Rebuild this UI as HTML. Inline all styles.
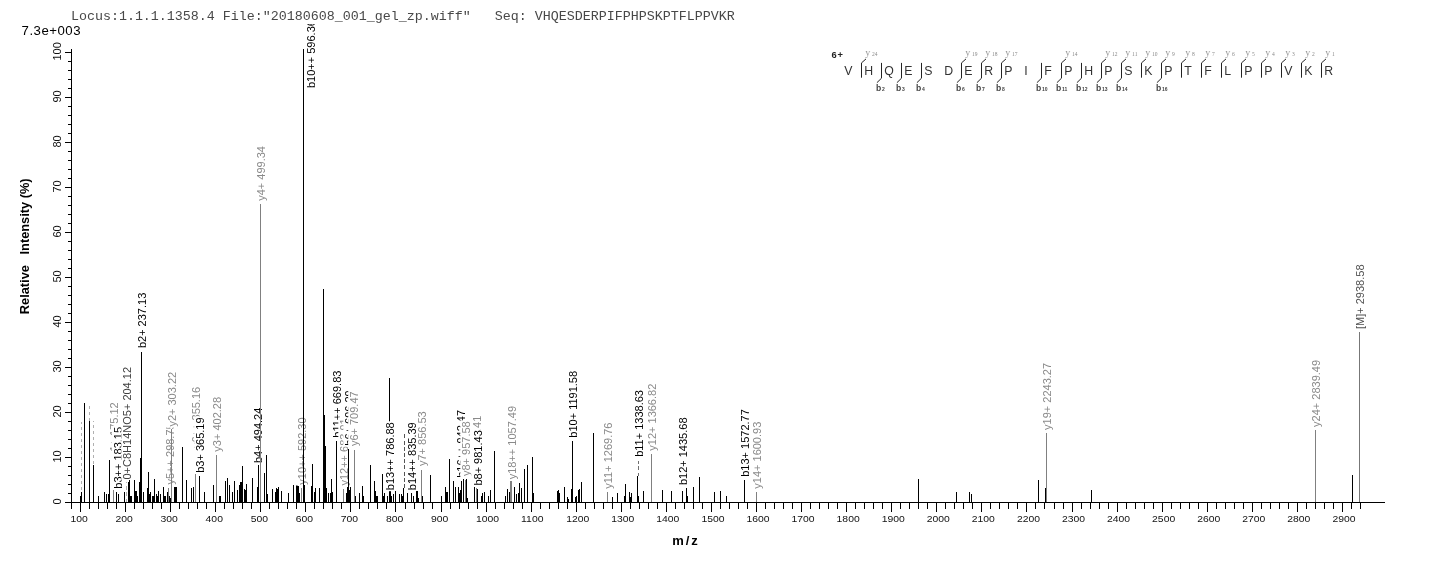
<!DOCTYPE html>
<html lang="en"><head><meta charset="utf-8"><title>MS/MS spectrum</title>
<style>html,body{margin:0;padding:0;background:#fff;}body{width:1436px;height:562px;overflow:hidden;position:relative;}</style>
</head><body>
<svg width="1436" height="562" viewBox="0 0 1436 562" style="position:absolute;left:0;top:0;display:block;will-change:transform" font-family='"Liberation Sans", Arial, sans-serif'>
<rect x="0" y="0" width="1436" height="562" fill="#fff"/>
<defs><clipPath id="plotclip"><rect x="60" y="24" width="1376" height="500"/></clipPath></defs>
<g clip-path="url(#plotclip)">
<rect x="80" y="496" width="1" height="6" fill="#000" shape-rendering="crispEdges"/>
<rect x="81" y="492" width="1" height="10" fill="#000" shape-rendering="crispEdges"/>
<rect x="84" y="403" width="1" height="99" fill="#000" shape-rendering="crispEdges"/>
<rect x="89" y="421" width="1" height="81" fill="#000" shape-rendering="crispEdges"/>
<rect x="93" y="465" width="1" height="37" fill="#000" shape-rendering="crispEdges"/>
<rect x="98" y="496" width="1" height="6" fill="#000" shape-rendering="crispEdges"/>
<rect x="104" y="492" width="1" height="10" fill="#000" shape-rendering="crispEdges"/>
<rect x="106" y="494" width="1" height="8" fill="#000" shape-rendering="crispEdges"/>
<rect x="108" y="494" width="1" height="8" fill="#000" shape-rendering="crispEdges"/>
<rect x="109" y="460" width="1" height="42" fill="#000" shape-rendering="crispEdges"/>
<rect x="113" y="490" width="1" height="12" fill="#808080" shape-rendering="crispEdges"/>
<rect x="108.3" y="401.3" width="12.5" height="56.7" fill="#fff"/>
<text transform="translate(118.3 457.0) rotate(-90)" font-size="11" fill="#8a8a8a">y1+ 175.12</text>
<rect x="116" y="492" width="1" height="10" fill="#000" shape-rendering="crispEdges"/>
<rect x="112.0" y="425.9" width="12.5" height="63.8" fill="#fff"/>
<text transform="translate(122.0 488.7) rotate(-90)" font-size="11" fill="#000">b3++ 183.15</text>
<rect x="118" y="494" width="1" height="8" fill="#000" shape-rendering="crispEdges"/>
<rect x="124" y="492" width="1" height="10" fill="#000" shape-rendering="crispEdges"/>
<line x1="126.5" y1="502" x2="126.5" y2="482" stroke="#b0b0b0" stroke-width="1" stroke-dasharray="3.5 2.7" shape-rendering="crispEdges"/>
<rect x="121.3" y="366.0" width="12.5" height="114.5" fill="#fff"/>
<text transform="translate(131.3 479.5) rotate(-90)" font-size="11" fill="#404040">0+C8H14NO5+ 204.12</text>
<rect x="128" y="482" width="1" height="20" fill="#000" shape-rendering="crispEdges"/>
<rect x="129" y="480" width="1" height="22" fill="#000" shape-rendering="crispEdges"/>
<rect x="130" y="496" width="1" height="6" fill="#000" shape-rendering="crispEdges"/>
<rect x="131" y="496" width="1" height="6" fill="#000" shape-rendering="crispEdges"/>
<rect x="134" y="480" width="1" height="22" fill="#000" shape-rendering="crispEdges"/>
<rect x="135" y="491" width="1" height="11" fill="#000" shape-rendering="crispEdges"/>
<rect x="136" y="491" width="1" height="11" fill="#000" shape-rendering="crispEdges"/>
<rect x="137" y="496" width="1" height="6" fill="#000" shape-rendering="crispEdges"/>
<rect x="139" y="482" width="1" height="20" fill="#000" shape-rendering="crispEdges"/>
<rect x="140" y="458" width="1" height="44" fill="#000" shape-rendering="crispEdges"/>
<rect x="141" y="352" width="1" height="150" fill="#000" shape-rendering="crispEdges"/>
<rect x="136.3" y="291.7" width="12.5" height="57.4" fill="#fff"/>
<text transform="translate(146.3 348.1) rotate(-90)" font-size="11" fill="#000">b2+ 237.13</text>
<rect x="143" y="492" width="1" height="10" fill="#000" shape-rendering="crispEdges"/>
<rect x="147" y="488" width="1" height="14" fill="#000" shape-rendering="crispEdges"/>
<rect x="148" y="472" width="1" height="30" fill="#000" shape-rendering="crispEdges"/>
<rect x="149" y="494" width="1" height="8" fill="#000" shape-rendering="crispEdges"/>
<rect x="150" y="492" width="1" height="10" fill="#000" shape-rendering="crispEdges"/>
<rect x="152" y="496" width="1" height="6" fill="#000" shape-rendering="crispEdges"/>
<rect x="153" y="496" width="1" height="6" fill="#000" shape-rendering="crispEdges"/>
<rect x="154" y="479" width="1" height="23" fill="#000" shape-rendering="crispEdges"/>
<rect x="156" y="494" width="1" height="8" fill="#000" shape-rendering="crispEdges"/>
<rect x="157" y="496" width="1" height="6" fill="#000" shape-rendering="crispEdges"/>
<rect x="158" y="491" width="1" height="11" fill="#000" shape-rendering="crispEdges"/>
<rect x="160" y="494" width="1" height="8" fill="#000" shape-rendering="crispEdges"/>
<rect x="163" y="487" width="1" height="15" fill="#000" shape-rendering="crispEdges"/>
<rect x="164" y="496" width="1" height="6" fill="#000" shape-rendering="crispEdges"/>
<rect x="165" y="496" width="1" height="6" fill="#000" shape-rendering="crispEdges"/>
<rect x="167" y="492" width="1" height="10" fill="#000" shape-rendering="crispEdges"/>
<rect x="168" y="488" width="1" height="14" fill="#808080" shape-rendering="crispEdges"/>
<rect x="163.6" y="422.3" width="12.5" height="63.2" fill="#fff"/>
<text transform="translate(173.6 484.5) rotate(-90)" font-size="11" fill="#8a8a8a">y5++ 298.75</text>
<rect x="169" y="496" width="1" height="6" fill="#000" shape-rendering="crispEdges"/>
<rect x="170" y="498" width="1" height="4" fill="#000" shape-rendering="crispEdges"/>
<rect x="171" y="429" width="1" height="73" fill="#808080" shape-rendering="crispEdges"/>
<rect x="165.8" y="370.9" width="12.5" height="56.7" fill="#fff"/>
<text transform="translate(175.8 426.6) rotate(-90)" font-size="11" fill="#8a8a8a">y2+ 303.22</text>
<rect x="174" y="487" width="1" height="15" fill="#000" shape-rendering="crispEdges"/>
<rect x="175" y="487" width="1" height="15" fill="#000" shape-rendering="crispEdges"/>
<rect x="176" y="487" width="1" height="15" fill="#000" shape-rendering="crispEdges"/>
<rect x="182" y="447" width="1" height="55" fill="#000" shape-rendering="crispEdges"/>
<rect x="186" y="480" width="1" height="22" fill="#000" shape-rendering="crispEdges"/>
<rect x="191" y="488" width="1" height="14" fill="#000" shape-rendering="crispEdges"/>
<rect x="193" y="487" width="1" height="15" fill="#000" shape-rendering="crispEdges"/>
<rect x="195" y="474" width="1" height="28" fill="#808080" shape-rendering="crispEdges"/>
<rect x="190.3" y="385.8" width="12.5" height="63.2" fill="#fff"/>
<text transform="translate(200.3 448.0) rotate(-90)" font-size="11" fill="#8a8a8a">y6++ 355.16</text>
<rect x="199" y="476" width="1" height="26" fill="#000" shape-rendering="crispEdges"/>
<rect x="194.3" y="416.4" width="12.5" height="57.4" fill="#fff"/>
<text transform="translate(204.3 472.8) rotate(-90)" font-size="11" fill="#000">b3+ 365.19</text>
<rect x="204" y="492" width="1" height="10" fill="#000" shape-rendering="crispEdges"/>
<rect x="213" y="485" width="1" height="17" fill="#000" shape-rendering="crispEdges"/>
<rect x="216" y="455" width="1" height="47" fill="#808080" shape-rendering="crispEdges"/>
<rect x="211.3" y="396.0" width="12.5" height="56.7" fill="#fff"/>
<text transform="translate(221.3 451.7) rotate(-90)" font-size="11" fill="#8a8a8a">y3+ 402.28</text>
<rect x="219" y="496" width="1" height="6" fill="#000" shape-rendering="crispEdges"/>
<rect x="220" y="496" width="1" height="6" fill="#000" shape-rendering="crispEdges"/>
<rect x="225" y="481" width="1" height="21" fill="#000" shape-rendering="crispEdges"/>
<rect x="227" y="478" width="1" height="24" fill="#000" shape-rendering="crispEdges"/>
<rect x="229" y="485" width="1" height="17" fill="#000" shape-rendering="crispEdges"/>
<rect x="232" y="492" width="1" height="10" fill="#000" shape-rendering="crispEdges"/>
<rect x="234" y="481" width="1" height="21" fill="#000" shape-rendering="crispEdges"/>
<rect x="237" y="490" width="1" height="12" fill="#000" shape-rendering="crispEdges"/>
<rect x="239" y="485" width="1" height="17" fill="#000" shape-rendering="crispEdges"/>
<rect x="240" y="482" width="1" height="20" fill="#000" shape-rendering="crispEdges"/>
<rect x="241" y="482" width="1" height="20" fill="#000" shape-rendering="crispEdges"/>
<rect x="242" y="466" width="1" height="36" fill="#000" shape-rendering="crispEdges"/>
<rect x="244" y="489" width="1" height="13" fill="#000" shape-rendering="crispEdges"/>
<rect x="245" y="490" width="1" height="12" fill="#000" shape-rendering="crispEdges"/>
<rect x="246" y="484" width="1" height="18" fill="#000" shape-rendering="crispEdges"/>
<rect x="252" y="478" width="1" height="24" fill="#000" shape-rendering="crispEdges"/>
<rect x="257" y="487" width="1" height="15" fill="#000" shape-rendering="crispEdges"/>
<rect x="258" y="465" width="1" height="37" fill="#000" shape-rendering="crispEdges"/>
<rect x="251.9" y="406.6" width="12.5" height="57.4" fill="#fff"/>
<text transform="translate(261.9 463.0) rotate(-90)" font-size="11" fill="#000">b4+ 494.24</text>
<rect x="260" y="204" width="1" height="298" fill="#808080" shape-rendering="crispEdges"/>
<rect x="255.3" y="145.1" width="12.5" height="56.7" fill="#fff"/>
<text transform="translate(265.3 200.8) rotate(-90)" font-size="11" fill="#8a8a8a">y4+ 499.34</text>
<rect x="264" y="473" width="1" height="29" fill="#000" shape-rendering="crispEdges"/>
<rect x="266" y="455" width="1" height="47" fill="#000" shape-rendering="crispEdges"/>
<rect x="267" y="494" width="1" height="8" fill="#000" shape-rendering="crispEdges"/>
<rect x="272" y="489" width="1" height="13" fill="#000" shape-rendering="crispEdges"/>
<rect x="275" y="492" width="1" height="10" fill="#000" shape-rendering="crispEdges"/>
<rect x="276" y="488" width="1" height="14" fill="#000" shape-rendering="crispEdges"/>
<rect x="277" y="489" width="1" height="13" fill="#000" shape-rendering="crispEdges"/>
<rect x="278" y="487" width="1" height="15" fill="#000" shape-rendering="crispEdges"/>
<rect x="281" y="491" width="1" height="11" fill="#000" shape-rendering="crispEdges"/>
<rect x="288" y="493" width="1" height="9" fill="#000" shape-rendering="crispEdges"/>
<rect x="293" y="485" width="1" height="17" fill="#000" shape-rendering="crispEdges"/>
<rect x="296" y="485" width="1" height="17" fill="#000" shape-rendering="crispEdges"/>
<rect x="297" y="485" width="1" height="17" fill="#000" shape-rendering="crispEdges"/>
<rect x="298" y="486" width="1" height="16" fill="#000" shape-rendering="crispEdges"/>
<rect x="299" y="493" width="1" height="9" fill="#000" shape-rendering="crispEdges"/>
<rect x="301" y="488" width="1" height="14" fill="#808080" shape-rendering="crispEdges"/>
<rect x="296.3" y="416.4" width="12.5" height="69.3" fill="#fff"/>
<text transform="translate(306.3 484.7) rotate(-90)" font-size="11" fill="#8a8a8a">y10++ 592.30</text>
<rect x="303" y="49" width="1" height="453" fill="#000" shape-rendering="crispEdges"/>
<rect x="305.0" y="19.1" width="12.5" height="69.9" fill="#fff"/>
<text transform="translate(315.0 88.0) rotate(-90)" font-size="11" fill="#000">b10++ 596.36</text>
<rect x="304" y="485" width="1" height="17" fill="#000" shape-rendering="crispEdges"/>
<rect x="311" y="486" width="1" height="16" fill="#000" shape-rendering="crispEdges"/>
<rect x="312" y="464" width="1" height="38" fill="#000" shape-rendering="crispEdges"/>
<rect x="314" y="492" width="1" height="10" fill="#000" shape-rendering="crispEdges"/>
<rect x="315" y="488" width="1" height="14" fill="#000" shape-rendering="crispEdges"/>
<rect x="319" y="488" width="1" height="14" fill="#000" shape-rendering="crispEdges"/>
<rect x="323" y="289" width="1" height="213" fill="#000" shape-rendering="crispEdges"/>
<rect x="324" y="415" width="1" height="87" fill="#000" shape-rendering="crispEdges"/>
<rect x="325" y="446" width="1" height="56" fill="#000" shape-rendering="crispEdges"/>
<rect x="326" y="488" width="1" height="14" fill="#000" shape-rendering="crispEdges"/>
<rect x="328" y="493" width="1" height="9" fill="#000" shape-rendering="crispEdges"/>
<rect x="330" y="493" width="1" height="9" fill="#000" shape-rendering="crispEdges"/>
<rect x="331" y="479" width="1" height="23" fill="#000" shape-rendering="crispEdges"/>
<rect x="332" y="492" width="1" height="10" fill="#000" shape-rendering="crispEdges"/>
<rect x="336" y="441" width="1" height="61" fill="#000" shape-rendering="crispEdges"/>
<rect x="331.3" y="369.6" width="12.5" height="69.1" fill="#fff"/>
<text transform="translate(341.3 437.7) rotate(-90)" font-size="11" fill="#000">b11++ 669.83</text>
<rect x="343" y="489" width="1" height="13" fill="#808080" shape-rendering="crispEdges"/>
<rect x="338.3" y="417.3" width="12.5" height="69.3" fill="#fff"/>
<text transform="translate(348.3 485.6) rotate(-90)" font-size="11" fill="#8a8a8a">y12++ 683.91</text>
<rect x="346" y="493" width="1" height="9" fill="#000" shape-rendering="crispEdges"/>
<rect x="347" y="487" width="1" height="15" fill="#000" shape-rendering="crispEdges"/>
<rect x="348" y="449" width="1" height="53" fill="#000" shape-rendering="crispEdges"/>
<rect x="343.3" y="389.3" width="12.5" height="57.4" fill="#fff"/>
<text transform="translate(353.3 445.7) rotate(-90)" font-size="11" fill="#000">b6+ 696.29</text>
<rect x="349" y="490" width="1" height="12" fill="#000" shape-rendering="crispEdges"/>
<rect x="350" y="487" width="1" height="15" fill="#000" shape-rendering="crispEdges"/>
<rect x="354" y="450" width="1" height="52" fill="#808080" shape-rendering="crispEdges"/>
<rect x="348.2" y="390.4" width="12.5" height="56.7" fill="#fff"/>
<text transform="translate(358.2 446.1) rotate(-90)" font-size="11" fill="#8a8a8a">y6+ 709.47</text>
<rect x="355" y="496" width="1" height="6" fill="#000" shape-rendering="crispEdges"/>
<rect x="359" y="493" width="1" height="9" fill="#000" shape-rendering="crispEdges"/>
<rect x="362" y="486" width="1" height="16" fill="#000" shape-rendering="crispEdges"/>
<rect x="363" y="496" width="1" height="6" fill="#000" shape-rendering="crispEdges"/>
<rect x="370" y="465" width="1" height="37" fill="#000" shape-rendering="crispEdges"/>
<rect x="374" y="481" width="1" height="21" fill="#000" shape-rendering="crispEdges"/>
<rect x="375" y="491" width="1" height="11" fill="#000" shape-rendering="crispEdges"/>
<rect x="376" y="496" width="1" height="6" fill="#000" shape-rendering="crispEdges"/>
<rect x="377" y="496" width="1" height="6" fill="#000" shape-rendering="crispEdges"/>
<rect x="382" y="474" width="1" height="28" fill="#000" shape-rendering="crispEdges"/>
<rect x="383" y="496" width="1" height="6" fill="#000" shape-rendering="crispEdges"/>
<rect x="384" y="493" width="1" height="9" fill="#000" shape-rendering="crispEdges"/>
<rect x="387" y="496" width="1" height="6" fill="#000" shape-rendering="crispEdges"/>
<rect x="389" y="378" width="1" height="124" fill="#000" shape-rendering="crispEdges"/>
<rect x="390" y="491" width="1" height="11" fill="#000" shape-rendering="crispEdges"/>
<rect x="384.3" y="421.3" width="12.5" height="69.9" fill="#fff"/>
<text transform="translate(394.3 490.2) rotate(-90)" font-size="11" fill="#000">b13++ 786.88</text>
<rect x="391" y="496" width="1" height="6" fill="#000" shape-rendering="crispEdges"/>
<rect x="393" y="494" width="1" height="8" fill="#000" shape-rendering="crispEdges"/>
<rect x="395" y="491" width="1" height="11" fill="#000" shape-rendering="crispEdges"/>
<rect x="399" y="494" width="1" height="8" fill="#000" shape-rendering="crispEdges"/>
<rect x="401" y="494" width="1" height="8" fill="#000" shape-rendering="crispEdges"/>
<rect x="402" y="496" width="1" height="6" fill="#000" shape-rendering="crispEdges"/>
<rect x="403" y="488" width="1" height="14" fill="#000" shape-rendering="crispEdges"/>
<line x1="404.5" y1="488" x2="404.5" y2="431.5" stroke="#555" stroke-width="1" stroke-dasharray="4 2.2" shape-rendering="crispEdges"/>
<rect x="406.1" y="421.3" width="12.5" height="69.9" fill="#fff"/>
<text transform="translate(416.1 490.2) rotate(-90)" font-size="11" fill="#000">b14++ 835.39</text>
<rect x="407" y="493" width="1" height="9" fill="#000" shape-rendering="crispEdges"/>
<rect x="411" y="493" width="1" height="9" fill="#000" shape-rendering="crispEdges"/>
<rect x="413" y="496" width="1" height="6" fill="#000" shape-rendering="crispEdges"/>
<rect x="416" y="491" width="1" height="11" fill="#000" shape-rendering="crispEdges"/>
<rect x="417" y="491" width="1" height="11" fill="#000" shape-rendering="crispEdges"/>
<rect x="418" y="498" width="1" height="4" fill="#000" shape-rendering="crispEdges"/>
<rect x="421" y="470" width="1" height="32" fill="#808080" shape-rendering="crispEdges"/>
<rect x="416.3" y="410.3" width="12.5" height="56.7" fill="#fff"/>
<text transform="translate(426.3 466.0) rotate(-90)" font-size="11" fill="#8a8a8a">y7+ 856.53</text>
<rect x="422" y="496" width="1" height="6" fill="#000" shape-rendering="crispEdges"/>
<rect x="430" y="475" width="1" height="27" fill="#000" shape-rendering="crispEdges"/>
<rect x="441" y="496" width="1" height="6" fill="#000" shape-rendering="crispEdges"/>
<rect x="445" y="487" width="1" height="15" fill="#000" shape-rendering="crispEdges"/>
<rect x="446" y="492" width="1" height="10" fill="#000" shape-rendering="crispEdges"/>
<rect x="447" y="492" width="1" height="10" fill="#000" shape-rendering="crispEdges"/>
<rect x="449" y="459" width="1" height="43" fill="#000" shape-rendering="crispEdges"/>
<rect x="453" y="481" width="1" height="21" fill="#000" shape-rendering="crispEdges"/>
<rect x="455" y="487" width="1" height="15" fill="#000" shape-rendering="crispEdges"/>
<rect x="458" y="487" width="1" height="15" fill="#000" shape-rendering="crispEdges"/>
<rect x="459" y="493" width="1" height="9" fill="#000" shape-rendering="crispEdges"/>
<rect x="460" y="490" width="1" height="12" fill="#000" shape-rendering="crispEdges"/>
<rect x="461" y="481" width="1" height="21" fill="#000" shape-rendering="crispEdges"/>
<rect x="454.6" y="408.9" width="12.5" height="69.9" fill="#fff"/>
<text transform="translate(464.6 477.8) rotate(-90)" font-size="11" fill="#000">b16++ 942.47</text>
<rect x="463" y="479" width="1" height="23" fill="#000" shape-rendering="crispEdges"/>
<rect x="465" y="480" width="1" height="22" fill="#808080" shape-rendering="crispEdges"/>
<rect x="460.3" y="420.3" width="12.5" height="56.7" fill="#fff"/>
<text transform="translate(470.3 476.0) rotate(-90)" font-size="11" fill="#8a8a8a">y8+ 957.58</text>
<rect x="466" y="479" width="1" height="23" fill="#000" shape-rendering="crispEdges"/>
<rect x="467" y="498" width="1" height="4" fill="#000" shape-rendering="crispEdges"/>
<rect x="474" y="487" width="1" height="15" fill="#000" shape-rendering="crispEdges"/>
<rect x="476" y="488" width="1" height="14" fill="#808080" shape-rendering="crispEdges"/>
<rect x="471.3" y="414.7" width="12.5" height="69.3" fill="#fff"/>
<text transform="translate(481.3 483.0) rotate(-90)" font-size="11" fill="#8a8a8a">y17++ 979.41</text>
<rect x="477" y="489" width="1" height="13" fill="#000" shape-rendering="crispEdges"/>
<rect x="472.3" y="429.2" width="12.5" height="57.4" fill="#fff"/>
<text transform="translate(482.3 485.6) rotate(-90)" font-size="11" fill="#000">b8+ 981.43</text>
<rect x="481" y="496" width="1" height="6" fill="#000" shape-rendering="crispEdges"/>
<rect x="482" y="493" width="1" height="9" fill="#000" shape-rendering="crispEdges"/>
<rect x="484" y="492" width="1" height="10" fill="#000" shape-rendering="crispEdges"/>
<rect x="488" y="496" width="1" height="6" fill="#000" shape-rendering="crispEdges"/>
<rect x="490" y="490" width="1" height="12" fill="#000" shape-rendering="crispEdges"/>
<rect x="494" y="451" width="1" height="51" fill="#000" shape-rendering="crispEdges"/>
<rect x="505" y="496" width="1" height="6" fill="#000" shape-rendering="crispEdges"/>
<rect x="507" y="489" width="1" height="13" fill="#000" shape-rendering="crispEdges"/>
<rect x="509" y="492" width="1" height="10" fill="#000" shape-rendering="crispEdges"/>
<rect x="510" y="481" width="1" height="21" fill="#808080" shape-rendering="crispEdges"/>
<rect x="511" y="481" width="1" height="21" fill="#808080" shape-rendering="crispEdges"/>
<rect x="505.6" y="404.9" width="12.5" height="75.4" fill="#fff"/>
<text transform="translate(515.6 479.3) rotate(-90)" font-size="11" fill="#8a8a8a">y18++ 1057.49</text>
<rect x="514" y="487" width="1" height="15" fill="#000" shape-rendering="crispEdges"/>
<rect x="516" y="494" width="1" height="8" fill="#000" shape-rendering="crispEdges"/>
<rect x="518" y="493" width="1" height="9" fill="#000" shape-rendering="crispEdges"/>
<rect x="519" y="483" width="1" height="19" fill="#000" shape-rendering="crispEdges"/>
<rect x="521" y="488" width="1" height="14" fill="#000" shape-rendering="crispEdges"/>
<rect x="524" y="469" width="1" height="33" fill="#000" shape-rendering="crispEdges"/>
<rect x="527" y="465" width="1" height="37" fill="#000" shape-rendering="crispEdges"/>
<rect x="532" y="457" width="1" height="45" fill="#000" shape-rendering="crispEdges"/>
<rect x="533" y="493" width="1" height="9" fill="#000" shape-rendering="crispEdges"/>
<rect x="557" y="491" width="1" height="11" fill="#000" shape-rendering="crispEdges"/>
<rect x="558" y="490" width="1" height="12" fill="#000" shape-rendering="crispEdges"/>
<rect x="559" y="493" width="1" height="9" fill="#000" shape-rendering="crispEdges"/>
<rect x="564" y="487" width="1" height="15" fill="#000" shape-rendering="crispEdges"/>
<rect x="567" y="497" width="1" height="5" fill="#000" shape-rendering="crispEdges"/>
<rect x="568" y="499" width="1" height="3" fill="#000" shape-rendering="crispEdges"/>
<rect x="571" y="489" width="1" height="13" fill="#000" shape-rendering="crispEdges"/>
<rect x="572" y="441" width="1" height="61" fill="#000" shape-rendering="crispEdges"/>
<rect x="567.3" y="369.9" width="12.5" height="68.8" fill="#fff"/>
<text transform="translate(577.3 437.7) rotate(-90)" font-size="11" fill="#000">b10+ 1191.58</text>
<rect x="575" y="497" width="1" height="5" fill="#000" shape-rendering="crispEdges"/>
<rect x="576" y="496" width="1" height="6" fill="#000" shape-rendering="crispEdges"/>
<rect x="578" y="490" width="1" height="12" fill="#000" shape-rendering="crispEdges"/>
<rect x="579" y="489" width="1" height="13" fill="#000" shape-rendering="crispEdges"/>
<rect x="581" y="482" width="1" height="20" fill="#000" shape-rendering="crispEdges"/>
<rect x="593" y="433" width="1" height="69" fill="#000" shape-rendering="crispEdges"/>
<rect x="607" y="492" width="1" height="10" fill="#808080" shape-rendering="crispEdges"/>
<rect x="602.3" y="421.5" width="12.5" height="68.2" fill="#fff"/>
<text transform="translate(612.3 488.7) rotate(-90)" font-size="11" fill="#8a8a8a">y11+ 1269.76</text>
<rect x="612" y="497" width="1" height="5" fill="#000" shape-rendering="crispEdges"/>
<rect x="617" y="493" width="1" height="9" fill="#000" shape-rendering="crispEdges"/>
<rect x="624" y="496" width="1" height="6" fill="#000" shape-rendering="crispEdges"/>
<rect x="625" y="484" width="1" height="18" fill="#000" shape-rendering="crispEdges"/>
<rect x="629" y="492" width="1" height="10" fill="#000" shape-rendering="crispEdges"/>
<rect x="630" y="497" width="1" height="5" fill="#000" shape-rendering="crispEdges"/>
<rect x="631" y="493" width="1" height="9" fill="#000" shape-rendering="crispEdges"/>
<rect x="637" y="476" width="1" height="26" fill="#000" shape-rendering="crispEdges"/>
<line x1="638.5" y1="476" x2="638.5" y2="461" stroke="#707070" stroke-width="1" stroke-dasharray="3.4 2.8" shape-rendering="crispEdges"/>
<rect x="633.3" y="389.0" width="12.5" height="68.8" fill="#fff"/>
<text transform="translate(643.3 456.8) rotate(-90)" font-size="11" fill="#000">b11+ 1338.63</text>
<rect x="638" y="496" width="1" height="6" fill="#000" shape-rendering="crispEdges"/>
<rect x="643" y="491" width="1" height="11" fill="#000" shape-rendering="crispEdges"/>
<rect x="651" y="454" width="1" height="48" fill="#808080" shape-rendering="crispEdges"/>
<rect x="646.3" y="382.7" width="12.5" height="69.0" fill="#fff"/>
<text transform="translate(656.3 450.7) rotate(-90)" font-size="11" fill="#8a8a8a">y12+ 1366.82</text>
<rect x="662" y="490" width="1" height="12" fill="#000" shape-rendering="crispEdges"/>
<rect x="671" y="491" width="1" height="11" fill="#000" shape-rendering="crispEdges"/>
<rect x="682" y="491" width="1" height="11" fill="#000" shape-rendering="crispEdges"/>
<rect x="677.3" y="416.5" width="12.5" height="69.6" fill="#fff"/>
<text transform="translate(687.3 485.1) rotate(-90)" font-size="11" fill="#000">b12+ 1435.68</text>
<rect x="686" y="488" width="1" height="14" fill="#000" shape-rendering="crispEdges"/>
<rect x="687" y="496" width="1" height="6" fill="#000" shape-rendering="crispEdges"/>
<rect x="693" y="487" width="1" height="15" fill="#000" shape-rendering="crispEdges"/>
<rect x="699" y="477" width="1" height="25" fill="#000" shape-rendering="crispEdges"/>
<rect x="714" y="492" width="1" height="10" fill="#000" shape-rendering="crispEdges"/>
<rect x="720" y="491" width="1" height="11" fill="#000" shape-rendering="crispEdges"/>
<rect x="726" y="496" width="1" height="6" fill="#000" shape-rendering="crispEdges"/>
<rect x="744" y="480" width="1" height="22" fill="#000" shape-rendering="crispEdges"/>
<rect x="739.3" y="408.2" width="12.5" height="69.6" fill="#fff"/>
<text transform="translate(749.3 476.8) rotate(-90)" font-size="11" fill="#000">b13+ 1572.77</text>
<rect x="756" y="492" width="1" height="10" fill="#808080" shape-rendering="crispEdges"/>
<rect x="751.3" y="420.7" width="12.5" height="69.0" fill="#fff"/>
<text transform="translate(761.3 488.7) rotate(-90)" font-size="11" fill="#8a8a8a">y14+ 1600.93</text>
<rect x="918" y="479" width="1" height="23" fill="#000" shape-rendering="crispEdges"/>
<rect x="956" y="492" width="1" height="10" fill="#000" shape-rendering="crispEdges"/>
<rect x="969" y="492" width="1" height="10" fill="#000" shape-rendering="crispEdges"/>
<rect x="971" y="494" width="1" height="8" fill="#000" shape-rendering="crispEdges"/>
<rect x="1038" y="480" width="1" height="22" fill="#000" shape-rendering="crispEdges"/>
<rect x="1045" y="488" width="1" height="14" fill="#000" shape-rendering="crispEdges"/>
<rect x="1046" y="433" width="1" height="69" fill="#808080" shape-rendering="crispEdges"/>
<rect x="1041.3" y="361.9" width="12.5" height="69.0" fill="#fff"/>
<text transform="translate(1051.3 429.9) rotate(-90)" font-size="11" fill="#8a8a8a">y19+ 2243.27</text>
<rect x="1091" y="490" width="1" height="12" fill="#000" shape-rendering="crispEdges"/>
<rect x="1315" y="430" width="1" height="72" fill="#808080" shape-rendering="crispEdges"/>
<rect x="1310.3" y="358.9" width="12.5" height="69.0" fill="#fff"/>
<text transform="translate(1320.3 426.9) rotate(-90)" font-size="11" fill="#8a8a8a">y24+ 2839.49</text>
<rect x="1352" y="475" width="1" height="27" fill="#000" shape-rendering="crispEdges"/>
<rect x="1359" y="332" width="1" height="170" fill="#777" shape-rendering="crispEdges"/>
<rect x="1354.3" y="263.5" width="12.5" height="66.5" fill="#fff"/>
<text transform="translate(1364.3 329.0) rotate(-90)" font-size="11" fill="#505050">[M]+ 2938.58</text>
</g>
<line x1="81.5" y1="490" x2="81.5" y2="421.5" stroke="#b0b0b0" stroke-width="1" stroke-dasharray="3.5 2.5" shape-rendering="crispEdges"/>
<line x1="89.5" y1="421" x2="89.5" y2="405" stroke="#b0b0b0" stroke-width="1" stroke-dasharray="3.5 2.5" shape-rendering="crispEdges"/>
<line x1="93.5" y1="464" x2="93.5" y2="420.5" stroke="#b0b0b0" stroke-width="1" stroke-dasharray="3.5 2.5" shape-rendering="crispEdges"/>
<g fill="#000" shape-rendering="crispEdges">
<rect x="65" y="502" width="1320" height="1"/>
<rect x="71" y="49" width="1" height="460"/>
<rect x="80" y="502" width="1" height="10"/>
<rect x="89" y="502" width="1" height="7"/>
<rect x="98" y="502" width="1" height="7"/>
<rect x="107" y="502" width="1" height="7"/>
<rect x="116" y="502" width="1" height="7"/>
<rect x="125" y="502" width="1" height="10"/>
<rect x="134" y="502" width="1" height="7"/>
<rect x="143" y="502" width="1" height="7"/>
<rect x="152" y="502" width="1" height="7"/>
<rect x="161" y="502" width="1" height="7"/>
<rect x="170" y="502" width="1" height="10"/>
<rect x="179" y="502" width="1" height="7"/>
<rect x="188" y="502" width="1" height="7"/>
<rect x="197" y="502" width="1" height="7"/>
<rect x="206" y="502" width="1" height="7"/>
<rect x="215" y="502" width="1" height="10"/>
<rect x="224" y="502" width="1" height="7"/>
<rect x="233" y="502" width="1" height="7"/>
<rect x="242" y="502" width="1" height="7"/>
<rect x="251" y="502" width="1" height="7"/>
<rect x="260" y="502" width="1" height="10"/>
<rect x="269" y="502" width="1" height="7"/>
<rect x="278" y="502" width="1" height="7"/>
<rect x="287" y="502" width="1" height="7"/>
<rect x="296" y="502" width="1" height="7"/>
<rect x="305" y="502" width="1" height="10"/>
<rect x="314" y="502" width="1" height="7"/>
<rect x="323" y="502" width="1" height="7"/>
<rect x="332" y="502" width="1" height="7"/>
<rect x="341" y="502" width="1" height="7"/>
<rect x="350" y="502" width="1" height="10"/>
<rect x="359" y="502" width="1" height="7"/>
<rect x="368" y="502" width="1" height="7"/>
<rect x="377" y="502" width="1" height="7"/>
<rect x="386" y="502" width="1" height="7"/>
<rect x="395" y="502" width="1" height="10"/>
<rect x="405" y="502" width="1" height="7"/>
<rect x="414" y="502" width="1" height="7"/>
<rect x="423" y="502" width="1" height="7"/>
<rect x="432" y="502" width="1" height="7"/>
<rect x="441" y="502" width="1" height="10"/>
<rect x="450" y="502" width="1" height="7"/>
<rect x="459" y="502" width="1" height="7"/>
<rect x="468" y="502" width="1" height="7"/>
<rect x="477" y="502" width="1" height="7"/>
<rect x="486" y="502" width="1" height="10"/>
<rect x="495" y="502" width="1" height="7"/>
<rect x="504" y="502" width="1" height="7"/>
<rect x="513" y="502" width="1" height="7"/>
<rect x="522" y="502" width="1" height="7"/>
<rect x="531" y="502" width="1" height="10"/>
<rect x="540" y="502" width="1" height="7"/>
<rect x="549" y="502" width="1" height="7"/>
<rect x="558" y="502" width="1" height="7"/>
<rect x="567" y="502" width="1" height="7"/>
<rect x="576" y="502" width="1" height="10"/>
<rect x="585" y="502" width="1" height="7"/>
<rect x="594" y="502" width="1" height="7"/>
<rect x="603" y="502" width="1" height="7"/>
<rect x="612" y="502" width="1" height="7"/>
<rect x="621" y="502" width="1" height="10"/>
<rect x="630" y="502" width="1" height="7"/>
<rect x="639" y="502" width="1" height="7"/>
<rect x="648" y="502" width="1" height="7"/>
<rect x="657" y="502" width="1" height="7"/>
<rect x="666" y="502" width="1" height="10"/>
<rect x="675" y="502" width="1" height="7"/>
<rect x="684" y="502" width="1" height="7"/>
<rect x="693" y="502" width="1" height="7"/>
<rect x="702" y="502" width="1" height="7"/>
<rect x="711" y="502" width="1" height="10"/>
<rect x="720" y="502" width="1" height="7"/>
<rect x="729" y="502" width="1" height="7"/>
<rect x="738" y="502" width="1" height="7"/>
<rect x="747" y="502" width="1" height="7"/>
<rect x="756" y="502" width="1" height="10"/>
<rect x="765" y="502" width="1" height="7"/>
<rect x="774" y="502" width="1" height="7"/>
<rect x="783" y="502" width="1" height="7"/>
<rect x="792" y="502" width="1" height="7"/>
<rect x="801" y="502" width="1" height="10"/>
<rect x="810" y="502" width="1" height="7"/>
<rect x="819" y="502" width="1" height="7"/>
<rect x="828" y="502" width="1" height="7"/>
<rect x="837" y="502" width="1" height="7"/>
<rect x="846" y="502" width="1" height="10"/>
<rect x="855" y="502" width="1" height="7"/>
<rect x="864" y="502" width="1" height="7"/>
<rect x="873" y="502" width="1" height="7"/>
<rect x="882" y="502" width="1" height="7"/>
<rect x="891" y="502" width="1" height="10"/>
<rect x="900" y="502" width="1" height="7"/>
<rect x="909" y="502" width="1" height="7"/>
<rect x="918" y="502" width="1" height="7"/>
<rect x="927" y="502" width="1" height="7"/>
<rect x="936" y="502" width="1" height="10"/>
<rect x="945" y="502" width="1" height="7"/>
<rect x="954" y="502" width="1" height="7"/>
<rect x="963" y="502" width="1" height="7"/>
<rect x="972" y="502" width="1" height="7"/>
<rect x="981" y="502" width="1" height="10"/>
<rect x="990" y="502" width="1" height="7"/>
<rect x="999" y="502" width="1" height="7"/>
<rect x="1008" y="502" width="1" height="7"/>
<rect x="1017" y="502" width="1" height="7"/>
<rect x="1026" y="502" width="1" height="10"/>
<rect x="1035" y="502" width="1" height="7"/>
<rect x="1044" y="502" width="1" height="7"/>
<rect x="1054" y="502" width="1" height="7"/>
<rect x="1063" y="502" width="1" height="7"/>
<rect x="1072" y="502" width="1" height="10"/>
<rect x="1081" y="502" width="1" height="7"/>
<rect x="1090" y="502" width="1" height="7"/>
<rect x="1099" y="502" width="1" height="7"/>
<rect x="1108" y="502" width="1" height="7"/>
<rect x="1117" y="502" width="1" height="10"/>
<rect x="1126" y="502" width="1" height="7"/>
<rect x="1135" y="502" width="1" height="7"/>
<rect x="1144" y="502" width="1" height="7"/>
<rect x="1153" y="502" width="1" height="7"/>
<rect x="1162" y="502" width="1" height="10"/>
<rect x="1171" y="502" width="1" height="7"/>
<rect x="1180" y="502" width="1" height="7"/>
<rect x="1189" y="502" width="1" height="7"/>
<rect x="1198" y="502" width="1" height="7"/>
<rect x="1207" y="502" width="1" height="10"/>
<rect x="1216" y="502" width="1" height="7"/>
<rect x="1225" y="502" width="1" height="7"/>
<rect x="1234" y="502" width="1" height="7"/>
<rect x="1243" y="502" width="1" height="7"/>
<rect x="1252" y="502" width="1" height="10"/>
<rect x="1261" y="502" width="1" height="7"/>
<rect x="1270" y="502" width="1" height="7"/>
<rect x="1279" y="502" width="1" height="7"/>
<rect x="1288" y="502" width="1" height="7"/>
<rect x="1297" y="502" width="1" height="10"/>
<rect x="1306" y="502" width="1" height="7"/>
<rect x="1315" y="502" width="1" height="7"/>
<rect x="1324" y="502" width="1" height="7"/>
<rect x="1333" y="502" width="1" height="7"/>
<rect x="1342" y="502" width="1" height="10"/>
<rect x="1351" y="502" width="1" height="7"/>
<rect x="1360" y="502" width="1" height="7"/>
<rect x="65" y="502" width="6" height="1"/>
<rect x="68" y="493" width="3" height="1"/>
<rect x="68" y="484" width="3" height="1"/>
<rect x="68" y="475" width="3" height="1"/>
<rect x="68" y="466" width="3" height="1"/>
<rect x="65" y="457" width="6" height="1"/>
<rect x="68" y="448" width="3" height="1"/>
<rect x="68" y="439" width="3" height="1"/>
<rect x="68" y="430" width="3" height="1"/>
<rect x="68" y="421" width="3" height="1"/>
<rect x="65" y="412" width="6" height="1"/>
<rect x="68" y="403" width="3" height="1"/>
<rect x="68" y="394" width="3" height="1"/>
<rect x="68" y="385" width="3" height="1"/>
<rect x="68" y="376" width="3" height="1"/>
<rect x="65" y="367" width="6" height="1"/>
<rect x="68" y="358" width="3" height="1"/>
<rect x="68" y="349" width="3" height="1"/>
<rect x="68" y="340" width="3" height="1"/>
<rect x="68" y="331" width="3" height="1"/>
<rect x="65" y="322" width="6" height="1"/>
<rect x="68" y="313" width="3" height="1"/>
<rect x="68" y="304" width="3" height="1"/>
<rect x="68" y="295" width="3" height="1"/>
<rect x="68" y="286" width="3" height="1"/>
<rect x="65" y="277" width="6" height="1"/>
<rect x="68" y="268" width="3" height="1"/>
<rect x="68" y="259" width="3" height="1"/>
<rect x="68" y="250" width="3" height="1"/>
<rect x="68" y="241" width="3" height="1"/>
<rect x="65" y="232" width="6" height="1"/>
<rect x="68" y="223" width="3" height="1"/>
<rect x="68" y="214" width="3" height="1"/>
<rect x="68" y="205" width="3" height="1"/>
<rect x="68" y="196" width="3" height="1"/>
<rect x="65" y="187" width="6" height="1"/>
<rect x="68" y="178" width="3" height="1"/>
<rect x="68" y="169" width="3" height="1"/>
<rect x="68" y="160" width="3" height="1"/>
<rect x="68" y="151" width="3" height="1"/>
<rect x="65" y="142" width="6" height="1"/>
<rect x="68" y="133" width="3" height="1"/>
<rect x="68" y="124" width="3" height="1"/>
<rect x="68" y="115" width="3" height="1"/>
<rect x="68" y="106" width="3" height="1"/>
<rect x="65" y="97" width="6" height="1"/>
<rect x="68" y="88" width="3" height="1"/>
<rect x="68" y="79" width="3" height="1"/>
<rect x="68" y="70" width="3" height="1"/>
<rect x="68" y="61" width="3" height="1"/>
<rect x="65" y="52" width="6" height="1"/>
</g>
<text transform="translate(70.4 521.5) scale(1 0.95)" font-size="10.4" fill="#111">100</text>
<text transform="translate(115.5 521.5) scale(1 0.95)" font-size="10.4" fill="#111">200</text>
<text transform="translate(160.5 521.5) scale(1 0.95)" font-size="10.4" fill="#111">300</text>
<text transform="translate(205.6 521.5) scale(1 0.95)" font-size="10.4" fill="#111">400</text>
<text transform="translate(250.7 521.5) scale(1 0.95)" font-size="10.4" fill="#111">500</text>
<text transform="translate(295.8 521.5) scale(1 0.95)" font-size="10.4" fill="#111">600</text>
<text transform="translate(340.8 521.5) scale(1 0.95)" font-size="10.4" fill="#111">700</text>
<text transform="translate(385.9 521.5) scale(1 0.95)" font-size="10.4" fill="#111">800</text>
<text transform="translate(431.0 521.5) scale(1 0.95)" font-size="10.4" fill="#111">900</text>
<text transform="translate(476.0 521.5) scale(1 0.95)" font-size="10.4" fill="#111">1000</text>
<text transform="translate(521.1 521.5) scale(1 0.95)" font-size="10.4" fill="#111">1100</text>
<text transform="translate(566.2 521.5) scale(1 0.95)" font-size="10.4" fill="#111">1200</text>
<text transform="translate(611.2 521.5) scale(1 0.95)" font-size="10.4" fill="#111">1300</text>
<text transform="translate(656.3 521.5) scale(1 0.95)" font-size="10.4" fill="#111">1400</text>
<text transform="translate(701.4 521.5) scale(1 0.95)" font-size="10.4" fill="#111">1500</text>
<text transform="translate(746.4 521.5) scale(1 0.95)" font-size="10.4" fill="#111">1600</text>
<text transform="translate(791.5 521.5) scale(1 0.95)" font-size="10.4" fill="#111">1700</text>
<text transform="translate(836.6 521.5) scale(1 0.95)" font-size="10.4" fill="#111">1800</text>
<text transform="translate(881.7 521.5) scale(1 0.95)" font-size="10.4" fill="#111">1900</text>
<text transform="translate(926.7 521.5) scale(1 0.95)" font-size="10.4" fill="#111">2000</text>
<text transform="translate(971.8 521.5) scale(1 0.95)" font-size="10.4" fill="#111">2100</text>
<text transform="translate(1016.9 521.5) scale(1 0.95)" font-size="10.4" fill="#111">2200</text>
<text transform="translate(1061.9 521.5) scale(1 0.95)" font-size="10.4" fill="#111">2300</text>
<text transform="translate(1107.0 521.5) scale(1 0.95)" font-size="10.4" fill="#111">2400</text>
<text transform="translate(1152.1 521.5) scale(1 0.95)" font-size="10.4" fill="#111">2500</text>
<text transform="translate(1197.2 521.5) scale(1 0.95)" font-size="10.4" fill="#111">2600</text>
<text transform="translate(1242.2 521.5) scale(1 0.95)" font-size="10.4" fill="#111">2700</text>
<text transform="translate(1287.3 521.5) scale(1 0.95)" font-size="10.4" fill="#111">2800</text>
<text transform="translate(1332.4 521.5) scale(1 0.95)" font-size="10.4" fill="#111">2900</text>
<text transform="translate(61.0 501.4) rotate(-90)" font-size="11" text-anchor="middle" fill="#111">0</text>
<text transform="translate(61.0 456.4) rotate(-90)" font-size="11" text-anchor="middle" fill="#111">10</text>
<text transform="translate(61.0 411.4) rotate(-90)" font-size="11" text-anchor="middle" fill="#111">20</text>
<text transform="translate(61.0 366.4) rotate(-90)" font-size="11" text-anchor="middle" fill="#111">30</text>
<text transform="translate(61.0 321.4) rotate(-90)" font-size="11" text-anchor="middle" fill="#111">40</text>
<text transform="translate(61.0 276.4) rotate(-90)" font-size="11" text-anchor="middle" fill="#111">50</text>
<text transform="translate(61.0 231.4) rotate(-90)" font-size="11" text-anchor="middle" fill="#111">60</text>
<text transform="translate(61.0 186.4) rotate(-90)" font-size="11" text-anchor="middle" fill="#111">70</text>
<text transform="translate(61.0 141.4) rotate(-90)" font-size="11" text-anchor="middle" fill="#111">80</text>
<text transform="translate(61.0 96.4) rotate(-90)" font-size="11" text-anchor="middle" fill="#111">90</text>
<text transform="translate(61.0 51.4) rotate(-90)" font-size="11" text-anchor="middle" fill="#111">100</text>
<text transform="translate(29.3 246.3) rotate(-90)" font-size="12.8" font-weight="bold" text-anchor="middle" fill="#000" xml:space="preserve">Relative   Intensity (%)</text>
<text x="672.3" y="544.5" font-size="13" font-weight="bold" fill="#000" letter-spacing="1.9">m/z</text>
<text x="21.6" y="34.6" font-size="13.2" fill="#000" letter-spacing="0.5">7.3e+003</text>
<text x="70.9" y="19.9" font-size="13.33" fill="#484848" font-family='"Liberation Mono", "Courier New", monospace' xml:space="preserve">Locus:1.1.1.1358.4 File:"20180608_001_gel_zp.wiff"   Seq: VHQESDERPIFPHPSKPTFLPPVKR</text>
<text x="831.6" y="57.6" font-size="9.3" font-weight="bold" fill="#222" letter-spacing="0.7">6+</text>
<text x="844.3" y="75.0" font-size="12.3" fill="#333">V</text>
<text x="864.3" y="75.0" font-size="12.3" fill="#333">H</text>
<text x="884.3" y="75.0" font-size="12.3" fill="#333">Q</text>
<text x="904.3" y="75.0" font-size="12.3" fill="#333">E</text>
<text x="924.3" y="75.0" font-size="12.3" fill="#333">S</text>
<text x="944.3" y="75.0" font-size="12.3" fill="#333">D</text>
<text x="964.3" y="75.0" font-size="12.3" fill="#333">E</text>
<text x="984.3" y="75.0" font-size="12.3" fill="#333">R</text>
<text x="1004.3" y="75.0" font-size="12.3" fill="#333">P</text>
<text x="1024.3" y="75.0" font-size="12.3" fill="#333">I</text>
<text x="1044.3" y="75.0" font-size="12.3" fill="#333">F</text>
<text x="1064.3" y="75.0" font-size="12.3" fill="#333">P</text>
<text x="1084.3" y="75.0" font-size="12.3" fill="#333">H</text>
<text x="1104.3" y="75.0" font-size="12.3" fill="#333">P</text>
<text x="1124.3" y="75.0" font-size="12.3" fill="#333">S</text>
<text x="1144.3" y="75.0" font-size="12.3" fill="#333">K</text>
<text x="1164.3" y="75.0" font-size="12.3" fill="#333">P</text>
<text x="1184.3" y="75.0" font-size="12.3" fill="#333">T</text>
<text x="1204.3" y="75.0" font-size="12.3" fill="#333">F</text>
<text x="1224.3" y="75.0" font-size="12.3" fill="#333">L</text>
<text x="1244.3" y="75.0" font-size="12.3" fill="#333">P</text>
<text x="1264.3" y="75.0" font-size="12.3" fill="#333">P</text>
<text x="1284.3" y="75.0" font-size="12.3" fill="#333">V</text>
<text x="1304.3" y="75.0" font-size="12.3" fill="#333">K</text>
<text x="1324.3" y="75.0" font-size="12.3" fill="#333">R</text>
<path d="M866.0 58.9 L861.5 62.9 L861.5 77.7" fill="none" stroke="#222" stroke-width="1"/>
<text x="865.3" y="56.0" font-size="10" fill="#999" font-family='"Liberation Serif", "Times New Roman", serif'>y<tspan dx="1.8" dy="0" font-size="5.5" fill="#8a8a8a">24</tspan></text>
<path d="M881.5 62.9 L881.5 78.2 L876.9 82.7" fill="none" stroke="#222" stroke-width="1"/>
<text x="876.1" y="90.9" font-size="8.6" font-weight="bold" fill="#444">b<tspan dx="0.6" font-size="5">2</tspan></text>
<path d="M901.5 62.9 L901.5 78.2 L896.9 82.7" fill="none" stroke="#222" stroke-width="1"/>
<text x="896.1" y="90.9" font-size="8.6" font-weight="bold" fill="#444">b<tspan dx="0.6" font-size="5">3</tspan></text>
<path d="M921.5 62.9 L921.5 78.2 L916.9 82.7" fill="none" stroke="#222" stroke-width="1"/>
<text x="916.1" y="90.9" font-size="8.6" font-weight="bold" fill="#444">b<tspan dx="0.6" font-size="5">4</tspan></text>
<path d="M966.0 58.9 L961.5 62.9 L961.5 78.2 L956.9 82.7" fill="none" stroke="#222" stroke-width="1"/>
<text x="965.3" y="56.0" font-size="10" fill="#999" font-family='"Liberation Serif", "Times New Roman", serif'>y<tspan dx="1.8" dy="0" font-size="5.5" fill="#8a8a8a">19</tspan></text>
<text x="956.1" y="90.9" font-size="8.6" font-weight="bold" fill="#444">b<tspan dx="0.6" font-size="5">6</tspan></text>
<path d="M986.0 58.9 L981.5 62.9 L981.5 78.2 L976.9 82.7" fill="none" stroke="#222" stroke-width="1"/>
<text x="985.3" y="56.0" font-size="10" fill="#999" font-family='"Liberation Serif", "Times New Roman", serif'>y<tspan dx="1.8" dy="0" font-size="5.5" fill="#8a8a8a">18</tspan></text>
<text x="976.1" y="90.9" font-size="8.6" font-weight="bold" fill="#444">b<tspan dx="0.6" font-size="5">7</tspan></text>
<path d="M1006.0 58.9 L1001.5 62.9 L1001.5 78.2 L996.9 82.7" fill="none" stroke="#222" stroke-width="1"/>
<text x="1005.3" y="56.0" font-size="10" fill="#999" font-family='"Liberation Serif", "Times New Roman", serif'>y<tspan dx="1.8" dy="0" font-size="5.5" fill="#8a8a8a">17</tspan></text>
<text x="996.1" y="90.9" font-size="8.6" font-weight="bold" fill="#444">b<tspan dx="0.6" font-size="5">8</tspan></text>
<path d="M1041.5 62.9 L1041.5 78.2 L1036.9 82.7" fill="none" stroke="#222" stroke-width="1"/>
<text x="1036.1" y="90.9" font-size="8.6" font-weight="bold" fill="#444">b<tspan dx="0.6" font-size="5">10</tspan></text>
<path d="M1066.0 58.9 L1061.5 62.9 L1061.5 78.2 L1056.9 82.7" fill="none" stroke="#222" stroke-width="1"/>
<text x="1065.3" y="56.0" font-size="10" fill="#999" font-family='"Liberation Serif", "Times New Roman", serif'>y<tspan dx="1.8" dy="0" font-size="5.5" fill="#8a8a8a">14</tspan></text>
<text x="1056.1" y="90.9" font-size="8.6" font-weight="bold" fill="#444">b<tspan dx="0.6" font-size="5">11</tspan></text>
<path d="M1081.5 62.9 L1081.5 78.2 L1076.9 82.7" fill="none" stroke="#222" stroke-width="1"/>
<text x="1076.1" y="90.9" font-size="8.6" font-weight="bold" fill="#444">b<tspan dx="0.6" font-size="5">12</tspan></text>
<path d="M1106.0 58.9 L1101.5 62.9 L1101.5 78.2 L1096.9 82.7" fill="none" stroke="#222" stroke-width="1"/>
<text x="1105.3" y="56.0" font-size="10" fill="#999" font-family='"Liberation Serif", "Times New Roman", serif'>y<tspan dx="1.8" dy="0" font-size="5.5" fill="#8a8a8a">12</tspan></text>
<text x="1096.1" y="90.9" font-size="8.6" font-weight="bold" fill="#444">b<tspan dx="0.6" font-size="5">13</tspan></text>
<path d="M1126.0 58.9 L1121.5 62.9 L1121.5 78.2 L1116.9 82.7" fill="none" stroke="#222" stroke-width="1"/>
<text x="1125.3" y="56.0" font-size="10" fill="#999" font-family='"Liberation Serif", "Times New Roman", serif'>y<tspan dx="1.8" dy="0" font-size="5.5" fill="#8a8a8a">11</tspan></text>
<text x="1116.1" y="90.9" font-size="8.6" font-weight="bold" fill="#444">b<tspan dx="0.6" font-size="5">14</tspan></text>
<path d="M1146.0 58.9 L1141.5 62.9 L1141.5 77.7" fill="none" stroke="#222" stroke-width="1"/>
<text x="1145.3" y="56.0" font-size="10" fill="#999" font-family='"Liberation Serif", "Times New Roman", serif'>y<tspan dx="1.8" dy="0" font-size="5.5" fill="#8a8a8a">10</tspan></text>
<path d="M1166.0 58.9 L1161.5 62.9 L1161.5 78.2 L1156.9 82.7" fill="none" stroke="#222" stroke-width="1"/>
<text x="1165.3" y="56.0" font-size="10" fill="#999" font-family='"Liberation Serif", "Times New Roman", serif'>y<tspan dx="1.8" dy="0" font-size="5.5" fill="#8a8a8a">9</tspan></text>
<text x="1156.1" y="90.9" font-size="8.6" font-weight="bold" fill="#444">b<tspan dx="0.6" font-size="5">16</tspan></text>
<path d="M1186.0 58.9 L1181.5 62.9 L1181.5 77.7" fill="none" stroke="#222" stroke-width="1"/>
<text x="1185.3" y="56.0" font-size="10" fill="#999" font-family='"Liberation Serif", "Times New Roman", serif'>y<tspan dx="1.8" dy="0" font-size="5.5" fill="#8a8a8a">8</tspan></text>
<path d="M1206.0 58.9 L1201.5 62.9 L1201.5 77.7" fill="none" stroke="#222" stroke-width="1"/>
<text x="1205.3" y="56.0" font-size="10" fill="#999" font-family='"Liberation Serif", "Times New Roman", serif'>y<tspan dx="1.8" dy="0" font-size="5.5" fill="#8a8a8a">7</tspan></text>
<path d="M1226.0 58.9 L1221.5 62.9 L1221.5 77.7" fill="none" stroke="#222" stroke-width="1"/>
<text x="1225.3" y="56.0" font-size="10" fill="#999" font-family='"Liberation Serif", "Times New Roman", serif'>y<tspan dx="1.8" dy="0" font-size="5.5" fill="#8a8a8a">6</tspan></text>
<path d="M1246.0 58.9 L1241.5 62.9 L1241.5 77.7" fill="none" stroke="#222" stroke-width="1"/>
<text x="1245.3" y="56.0" font-size="10" fill="#999" font-family='"Liberation Serif", "Times New Roman", serif'>y<tspan dx="1.8" dy="0" font-size="5.5" fill="#8a8a8a">5</tspan></text>
<path d="M1266.0 58.9 L1261.5 62.9 L1261.5 77.7" fill="none" stroke="#222" stroke-width="1"/>
<text x="1265.3" y="56.0" font-size="10" fill="#999" font-family='"Liberation Serif", "Times New Roman", serif'>y<tspan dx="1.8" dy="0" font-size="5.5" fill="#8a8a8a">4</tspan></text>
<path d="M1286.0 58.9 L1281.5 62.9 L1281.5 77.7" fill="none" stroke="#222" stroke-width="1"/>
<text x="1285.3" y="56.0" font-size="10" fill="#999" font-family='"Liberation Serif", "Times New Roman", serif'>y<tspan dx="1.8" dy="0" font-size="5.5" fill="#8a8a8a">3</tspan></text>
<path d="M1306.0 58.9 L1301.5 62.9 L1301.5 77.7" fill="none" stroke="#222" stroke-width="1"/>
<text x="1305.3" y="56.0" font-size="10" fill="#999" font-family='"Liberation Serif", "Times New Roman", serif'>y<tspan dx="1.8" dy="0" font-size="5.5" fill="#8a8a8a">2</tspan></text>
<path d="M1326.0 58.9 L1321.5 62.9 L1321.5 77.7" fill="none" stroke="#222" stroke-width="1"/>
<text x="1325.3" y="56.0" font-size="10" fill="#999" font-family='"Liberation Serif", "Times New Roman", serif'>y<tspan dx="1.8" dy="0" font-size="5.5" fill="#8a8a8a">1</tspan></text>
</svg>
</body></html>
